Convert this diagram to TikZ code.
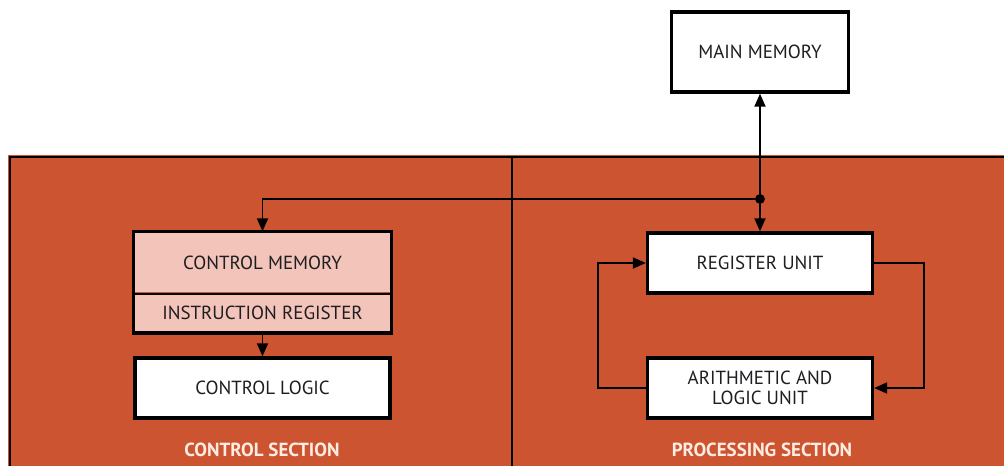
\documentclass[tikz,border=0pt]{standalone}
\usepackage{fontspec}
\setmainfont{PT Sans}
\usepackage{tikz}
\usetikzlibrary{arrows.meta, positioning}
\definecolor{PanelOrange}{RGB}{205,84,48}
\definecolor{MemPink}{RGB}{242,196,186}
\definecolor{InkGray}{RGB}{30,30,34}
\definecolor{LabelWhite}{RGB}{255,236,226}

\begin{document}
\begin{tikzpicture}[
	unitbox/.style={draw=black, line width=1.9pt, fill=white, minimum height=1.2cm,
		text=InkGray, font=\fontsize{10.8}{12}\selectfont, align=center, inner sep=0pt},
	conn/.style={line width=1.1pt, -{Triangle[length=2.6mm,width=2.2mm]}},
	seclabel/.style={text=LabelWhite, font=\fontsize{10.8}{12}\selectfont\bfseries}
]
	\useasboundingbox (0,0) rectangle (20.08,9.32);
	\fill[white] (0,0) rectangle (20.08,9.32);

	% 背景面板
	\fill[PanelOrange] (0.16,0) rectangle (20.08,6.22);
	\draw[line width=1.5pt] (0.2,0) -- (0.2,6.18) -- (20.08,6.18);
	\draw[line width=1.2pt] (10.24,0) -- (10.24,6.18);

	% 主存
	\node[unitbox, minimum width=3.54cm, minimum height=1.6cm] (mainmem) at (15.2,8.28) {MAIN MEMORY};

	% 控制部分
	\node[unitbox, draw=none, fill=MemPink, minimum width=5.1cm, minimum height=1.18cm] (ctrlmem) at (5.25,4.07) {CONTROL MEMORY};
	\node[unitbox, draw=none, fill=MemPink, minimum width=5.1cm, minimum height=0.72cm, below=0pt of ctrlmem] (instreg) {INSTRUCTION REGISTER};
	\draw[line width=1.9pt] (ctrlmem.north west) rectangle (instreg.south east);
	\draw[line width=1.2pt] (ctrlmem.south west) -- (ctrlmem.south east);
	\node[unitbox, minimum width=5.1cm] (ctrllogic) at (5.25,1.56) {CONTROL LOGIC};
	\node[seclabel] (ctrlsec) at (5.24,0.32) {CONTROL SECTION};

	% 处理部分
	\node[unitbox, minimum width=4.5cm] (regunit) at (15.2,4.06) {REGISTER UNIT};
	\node[unitbox, minimum width=4.5cm] (alu) at (15.2,1.56) {ARITHMETIC AND\\[-1pt]LOGIC UNIT};
	\node[seclabel] (procsec) at (15.24,0.32) {PROCESSING SECTION};

	% 总线与连线
	\coordinate (junct) at (15.2,5.34);
	\fill (junct) circle (2.8pt);
	\draw[conn] (junct) -- (mainmem.south);
	\draw[conn] (junct) -- (regunit.north);
	\draw[conn] (junct) -| (ctrlmem.north);
	\draw[conn] (instreg.south) -- (ctrllogic.north);

	% 寄存器与运算单元的回路
	\draw[conn] (regunit.east) -- ++(1.0,0) |- (alu.east);
	\draw[conn] (alu.west) -- ++(-0.96,0) |- (regunit.west);
\end{tikzpicture}
\end{document}
